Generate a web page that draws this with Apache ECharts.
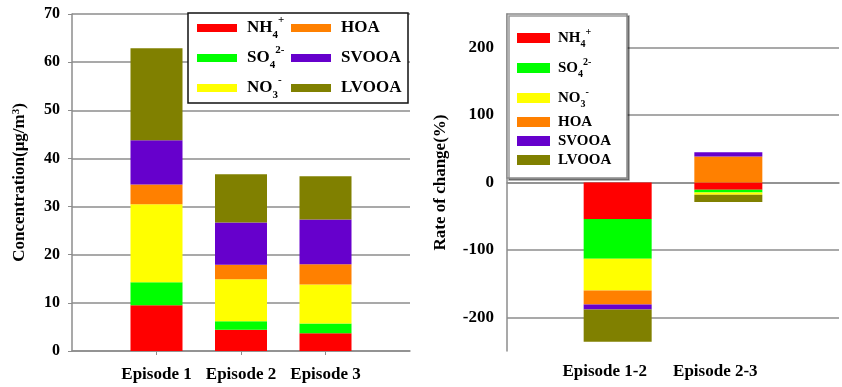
<!DOCTYPE html>
<html>
<head>
<meta charset="utf-8">
<script src="https://cdn.jsdelivr.net/npm/echarts@6/dist/echarts.min.js"></script>
<style>
  html, body { margin: 0; padding: 0; background: #fff; }
  #c { width: 842px; height: 387px; }
</style>
</head>
<body>
<div id="c"></div>
<script>
// ---- data ----
const species = ['NH4+', 'SO42-', 'NO3-', 'HOA', 'SVOOA', 'LVOOA'];

// Concentration (µg/m3) per episode
const episodes = ['Episode 1', 'Episode 2', 'Episode 3'];
const concNH4   = [9.5, 4.4, 3.7];
const concSO4   = [4.8, 1.8, 2.0];
const concNO3   = [16.2, 8.7, 8.1];
const concHOA   = [4.1, 3.0, 4.2];
const concSVOOA = [9.2, 8.8, 9.3];
const concLVOOA = [19.1, 10.0, 9.0];

// Rate of change (%) between episodes
const periods = ['Episode 1-2', 'Episode 2-3'];
const rateNH4   = [-54.0, -10.8];
const rateSO4   = [-59.0, -3.9];
const rateNO3   = [-47.3, -3.4];
const rateHOA   = [-20.7, 38.5];
const rateSVOOA = [-7.4, 6.4];
const rateLVOOA = [-47.8, -10.8];

// axis ticks
const concTicks = [0, 10, 20, 30, 40, 50, 60, 70];
const rateTicks = [-200, -100, 0, 100, 200];

// ---- styling ----
const FONT = 'Liberation Serif';
const GRID_COLOR = '#8c8c8c';
const colors = ['#ff0000', '#00ff00', '#ffff00', '#ff8000', '#6600cc', '#808000'];
const legendLabels = {
  'NH4+':  '{g|}NH{sub|4}{sup|+}',
  'SO42-': '{g|}SO{sub|4}{sup|2-}',
  'NO3-':  '{g|}NO{sub|3}{sup|-}',
  'HOA':   '{g|}HOA',
  'SVOOA': '{g|}SVOOA',
  'LVOOA': '{g|}LVOOA'
};
function richFor(size, gap) {
  return {
    g:   { width: gap },
    sub: { fontFamily: FONT, fontWeight: 'bold', fontSize: Math.round(size * 0.65), verticalAlign: 'bottom', color: '#000' },
    sup: { fontFamily: FONT, fontWeight: 'bold', fontSize: Math.round(size * 0.65), verticalAlign: 'top', color: '#000' }
  };
}

const concData = [concNH4, concSO4, concNO3, concHOA, concSVOOA, concLVOOA];
const rateData = [rateNH4, rateSO4, rateNO3, rateHOA, rateSVOOA, rateLVOOA];

// padded categories so the bars sit on interior ticks
const leftCats = [''].concat(episodes, ['']);
const rightCats = [''].concat(periods, ['']);
const pad = arr => ['-'].concat(arr, ['-']);

const series = [];
species.forEach((name, i) => {
  series.push({
    name, type: 'bar', stack: 'conc', xAxisIndex: 0, yAxisIndex: 0,
    barWidth: 52, z: 2,
    itemStyle: { color: colors[i] },
    data: pad(concData[i])
  });
});
// horizontal reference lines of the rate panel, kept beneath the bars
series.push({
  name: 'rateGrid', type: 'line', xAxisIndex: 1, yAxisIndex: 1, z: 1,
  silent: true, symbol: 'none', lineStyle: { opacity: 0 },
  data: rightCats.map(() => '-'),
  markLine: {
    z: 1, silent: true, symbol: 'none', label: { show: false }, animation: false,
    lineStyle: { color: GRID_COLOR, width: 1.5, type: 'solid' },
    data: rateTicks.map(v => ({ yAxis: v }))
  }
});
species.forEach((name, i) => {
  series.push({
    name, type: 'bar', stack: 'rate', xAxisIndex: 1, yAxisIndex: 1,
    barWidth: 68, z: 2,
    itemStyle: { color: colors[i] },
    data: pad(rateData[i])
  });
});

// legend item placement [left, rowCenter]
const leftLegendPos = [[197, 28], [197, 58], [197, 88], [291, 28], [291, 58], [291, 88]];
const rightLegendPos = [[517, 38], [517, 68], [517, 98], [517, 122], [517, 141], [517, 160]];
const legends = [];
species.forEach((name, i) => {
  legends.push({
    left: leftLegendPos[i][0], top: leftLegendPos[i][1] - 13, padding: 0,
    data: [name], icon: 'rect', itemWidth: 40, itemHeight: 8, selectedMode: false, z: 30,
    itemStyle: { borderWidth: 0 },
    formatter: n => legendLabels[n],
    textStyle: { fontFamily: FONT, fontWeight: 'bold', fontSize: 17, color: '#000', lineHeight: 26, rich: richFor(17, 5) }
  });
  legends.push({
    left: rightLegendPos[i][0], top: rightLegendPos[i][1] - 11, padding: 0,
    data: [name], icon: 'rect', itemWidth: 33, itemHeight: 10, selectedMode: false, z: 30,
    itemStyle: { borderWidth: 0 },
    formatter: n => legendLabels[n],
    textStyle: { fontFamily: FONT, fontWeight: 'bold', fontSize: 15, color: '#000', lineHeight: 22, rich: richFor(15, 3) }
  });
});

const axisLabelStyle = { fontFamily: FONT, fontWeight: 'bold', color: '#000' };
const innerTick = (idx, n) => idx > 0 && idx < n - 1;

const option = {
  animation: false,
  backgroundColor: '#fff',
  grid: [
    { left: 72, top: 14, width: 338, height: 337 },
    { left: 507, top: 14, width: 336, height: 337 }
  ],
  xAxis: [
    {
      type: 'category', gridIndex: 0, data: leftCats, boundaryGap: false,
      axisLine: { lineStyle: { color: GRID_COLOR, width: 1.5 } },
      axisTick: { show: true, length: 4, interval: i => innerTick(i, leftCats.length), lineStyle: { color: GRID_COLOR } },
      axisLabel: Object.assign({ fontSize: 17, margin: 15, interval: 0 }, axisLabelStyle),
      splitLine: { show: false }
    },
    {
      type: 'category', gridIndex: 1, data: rightCats, boundaryGap: false,
      axisLine: { lineStyle: { color: GRID_COLOR, width: 1.5 } },
      axisTick: { show: true, length: 4, interval: i => innerTick(i, rightCats.length), lineStyle: { color: GRID_COLOR } },
      axisLabel: Object.assign({ fontSize: 17, margin: 12, interval: 0, padding: [0, 26, 0, 0] }, axisLabelStyle),
      splitLine: { show: false }
    }
  ],
  yAxis: [
    {
      type: 'value', gridIndex: 0,
      min: concTicks[0], max: concTicks[concTicks.length - 1], interval: concTicks[1] - concTicks[0],
      name: 'Concentration(μg/m{sup|3})', nameLocation: 'middle', nameGap: 44,
      nameTextStyle: { fontFamily: FONT, fontWeight: 'bold', fontSize: 17, color: '#000',
        rich: { sup: { fontFamily: FONT, fontWeight: 'bold', fontSize: 11, verticalAlign: 'top', color: '#000' } } },
      axisLine: { show: true, lineStyle: { color: GRID_COLOR, width: 1.5 } },
      axisTick: { show: true, length: 4, lineStyle: { color: GRID_COLOR } },
      axisLabel: Object.assign({ fontSize: 16, margin: 12 }, axisLabelStyle),
      splitLine: { show: true, lineStyle: { color: GRID_COLOR, width: 1.5 } }
    },
    {
      type: 'value', gridIndex: 1, min: -250, max: 250, interval: 50,
      name: 'Rate of change(%)', nameLocation: 'middle', nameGap: 58,
      nameTextStyle: { fontFamily: FONT, fontWeight: 'bold', fontSize: 17, color: '#000' },
      axisLine: { show: true, lineStyle: { color: GRID_COLOR, width: 1.5 } },
      axisTick: { show: false },
      axisLabel: Object.assign({ fontSize: 17, margin: 13,
        formatter: v => (rateTicks.indexOf(v) >= 0 ? String(v) : '') }, axisLabelStyle),
      splitLine: { show: false }
    }
  ],
  legend: legends,
  graphic: [
    { type: 'rect', z: 10, shape: { x: 188, y: 13, width: 220, height: 90 },
      style: { fill: '#fff', stroke: '#111', lineWidth: 1.5 } },
    { type: 'rect', z: 10, shape: { x: 507, y: 14, width: 120, height: 164 },
      style: { fill: '#fff', stroke: '#8a8a8a', lineWidth: 1.5,
        shadowColor: 'rgba(0,0,0,0.4)', shadowOffsetX: 2, shadowOffsetY: 2, shadowBlur: 0 } }
  ],
  series
};

const chart = echarts.init(document.getElementById('c'), null, { renderer: 'canvas' });
chart.setOption(option);
</script>
</body>
</html>
